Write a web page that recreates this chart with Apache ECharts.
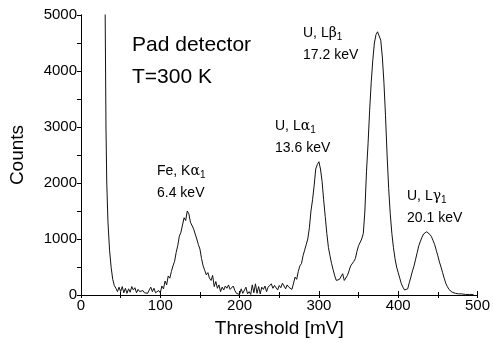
<!DOCTYPE html>
<html>
<head>
<meta charset="utf-8">
<script src="https://cdn.jsdelivr.net/npm/echarts@6/dist/echarts.min.js"></script>
<style>
  html, body { margin: 0; padding: 0; background: #fff; }
  #chart { width: 493px; height: 343px; }
</style>
</head>
<body>
<div id="chart"></div>
<script>
// threshold (mV) and counts
const threshold = [
  29, 30.5, 31.5, 32.5, 34, 36, 38, 40, 42, 44, 46,
  48, 50, 52, 54, 56, 58, 60, 62, 64, 66, 68, 70, 72, 74, 76, 78, 80,
  82, 84, 86, 88, 90, 92, 94, 96, 98, 100, 102, 104, 106, 108, 110,
  112, 114, 116, 118, 120, 122, 124, 126, 128, 130, 132, 134, 136, 138,
  140, 142, 144, 146, 148, 150, 152, 154, 156, 158, 160, 162, 164, 166,
  168, 170, 172, 174, 176, 178, 180, 182, 184, 186, 188, 190, 192, 194,
  196, 198, 200, 202, 204, 206, 208, 210, 212, 214, 216, 218, 220, 222,
  224, 226, 228, 230, 232, 234, 236, 238, 240, 242, 244, 246, 248, 250,
  252, 254, 256, 258, 260, 262, 264, 266, 268, 270, 272, 274, 276, 278,
  280, 282, 284, 286, 288, 290, 292, 294, 296, 298, 300, 302, 304, 306,
  308, 310, 312, 314, 316, 318, 320, 322, 324, 326, 328, 330, 332, 334,
  336, 338, 340, 342, 344, 346, 348, 350, 352, 354, 356, 358, 360, 362,
  364, 366, 368, 370, 372, 374, 376, 378, 380, 382, 384, 386, 388, 390,
  392, 394, 396, 398, 400, 402, 404, 406, 408, 410, 412, 414, 416, 418,
  420, 422, 424, 426, 428, 430, 432, 434, 436, 438, 440, 442, 444, 446,
  448, 450, 452, 454, 456, 458, 460, 462, 464, 466, 468, 470, 472, 476,
  480, 485, 490, 495
];
const counts = [
  9000, 5000, 3000, 2000, 1300, 800, 495, 280, 170, 120, 60,
  140, 60, 150, 40, 120, 30, 110, 50, 150, 90, 130, 40, 100, 60, 30, 80, 40,
  60, 30, 90, 140, 60, 120, 40, 20, 80, 40, 160, 110, 250, 180, 340,
  300, 420, 520, 600, 760, 880, 1050, 1120, 1250, 1380, 1330, 1500, 1450, 1300,
  1320, 1180, 1200, 1000, 900, 820, 650, 520, 440, 360, 400, 300, 260, 350,
  150, 240, 120, 180, 60, 140, 90, 160, 120, 180, 100, 70, 160, 80,
  30, 50, 10, 110, 30, 10, 140, 20, 60, 10, 180, 40, 200, 30,
  150, 20, 140, 100, 160, 60, 140, 110, 200, 120, 170, 140, 90, 170,
  130, 210, 160, 110, 180, 140, 170, 100, 130, 320, 280, 420, 520, 560,
  700, 800, 900, 1000, 1200, 1500, 1700, 1950, 2250, 2330, 2380, 2250, 2030, 1700,
  1400, 1100, 850, 700, 560, 450, 340, 260, 230, 280, 300, 380, 260, 240,
  350, 430, 520, 500, 600, 650, 780, 880, 900, 1000, 1100, 1500, 2200, 2700,
  3300, 3800, 4200, 4500, 4650, 4700, 4680, 4550, 4250, 3800, 3200, 2500, 1900, 1450,
  1100, 850, 650, 500, 400, 300, 200, 140, 90, 100, 110, 220, 320, 430,
  520, 640, 760, 880, 960, 1030, 1090, 1110, 1130, 1120, 1080, 1040, 970, 900,
  800, 700, 590, 500, 400, 300, 210, 150, 100, 70, 50, 40, 30, 20,
  20, 10, 10, 10
];

const font = "'Liberation Sans', Arial, sans-serif";
const spectrum = threshold.map((x, i) => [x, counts[i]]);

const chart = echarts.init(document.getElementById("chart"), null, { renderer: "canvas" });

const noLabel = { show: false };
const axisLine = { show: true, lineStyle: { color: "#000", width: 1 } };
const plain = (v) => String(v); // no thousands separator

// peak annotations: first line with greek letter + subscript, second line energy
function peakLabel(left, top, prefix, greek, energy) {
  return [
    {
      type: "text",
      left: left,
      top: top,
      style: {
        text: "{n|" + prefix + "}{g|" + greek + "}{s|1}",
        rich: {
          n: { fontSize: 14, fontFamily: font, fill: "#000" },
          g: { fontSize: 14, fontFamily: "'DejaVu Serif', serif", fill: "#000" },
          s: { fontSize: 10, fontFamily: font, fill: "#000", padding: [8, 0, 0, 0] },
        },
      },
    },
    {
      type: "text",
      left: left,
      top: top + 22,
      style: { text: energy, fontSize: 14, fontFamily: font, fill: "#000" },
    },
  ];
}

const option = {
  animation: false,
  backgroundColor: "#fff",
  grid: { left: 81, right: 11, top: 15, bottom: 45, containLabel: false },
  xAxis: [
    {
      type: "value",
      min: 0,
      max: 500,
      interval: 100,
      name: "Threshold [mV]",
      nameLocation: "middle",
      nameGap: 24,
      nameTextStyle: { fontSize: 19, fontFamily: font, color: "#000" },
      axisLine: axisLine,
      axisTick: { show: true, inside: true, length: 4, lineStyle: { color: "#000" } },
      minorTick: { show: true, splitNumber: 2, length: 3, lineStyle: { color: "#000" } },
      axisLabel: { fontSize: 15, fontFamily: font, color: "#000", margin: 3, formatter: plain },
      splitLine: { show: false },
    },
    {
      type: "value",
      position: "top",
      min: 0,
      max: 500,
      interval: 50,
      axisLine: axisLine,
      axisTick: { show: true, inside: true, length: 3, lineStyle: { color: "#000" } },
      axisLabel: noLabel,
      splitLine: { show: false },
    },
  ],
  yAxis: [
    {
      type: "value",
      min: 0,
      max: 5000,
      interval: 1000,
      name: "Counts",
      nameLocation: "middle",
      nameGap: 54,
      nameTextStyle: { fontSize: 19, fontFamily: font, color: "#000" },
      axisLine: axisLine,
      axisTick: { show: true, inside: false, length: 4, lineStyle: { color: "#000" } },
      minorTick: { show: true, splitNumber: 2, length: 2, lineStyle: { color: "#000" } },
      axisLabel: { fontSize: 15, fontFamily: font, color: "#000", margin: 4, formatter: plain },
      splitLine: { show: false },
    },
    {
      type: "value",
      position: "right",
      min: 0,
      max: 5000,
      interval: 500,
      axisLine: axisLine,
      axisTick: { show: true, inside: true, length: 4, lineStyle: { color: "#000" } },
      axisLabel: noLabel,
      splitLine: { show: false },
    },
  ],
  graphic: [
    {
      type: "text",
      left: 132,
      top: 35,
      style: { text: "Pad detector", fontSize: 21, fontFamily: font, fill: "#000" },
    },
    {
      type: "text",
      left: 132,
      top: 67,
      style: { text: "T=300 K", fontSize: 21, fontFamily: font, fill: "#000" },
    },
    ...peakLabel(157, 164, "Fe, K", "α", "6.4 keV"),
    ...peakLabel(275, 119, "U, L", "α", "13.6 keV"),
    ...peakLabel(303, 26, "U, L", "β", "17.2 keV"),
    ...peakLabel(407, 189, "U, L", "γ", "20.1 keV"),
  ],
  series: [
    {
      type: "line",
      data: spectrum,
      showSymbol: false,
      clip: true,
      lineStyle: { color: "#111", width: 1 },
    },
  ],
};

chart.setOption(option);
</script>
</body>
</html>
